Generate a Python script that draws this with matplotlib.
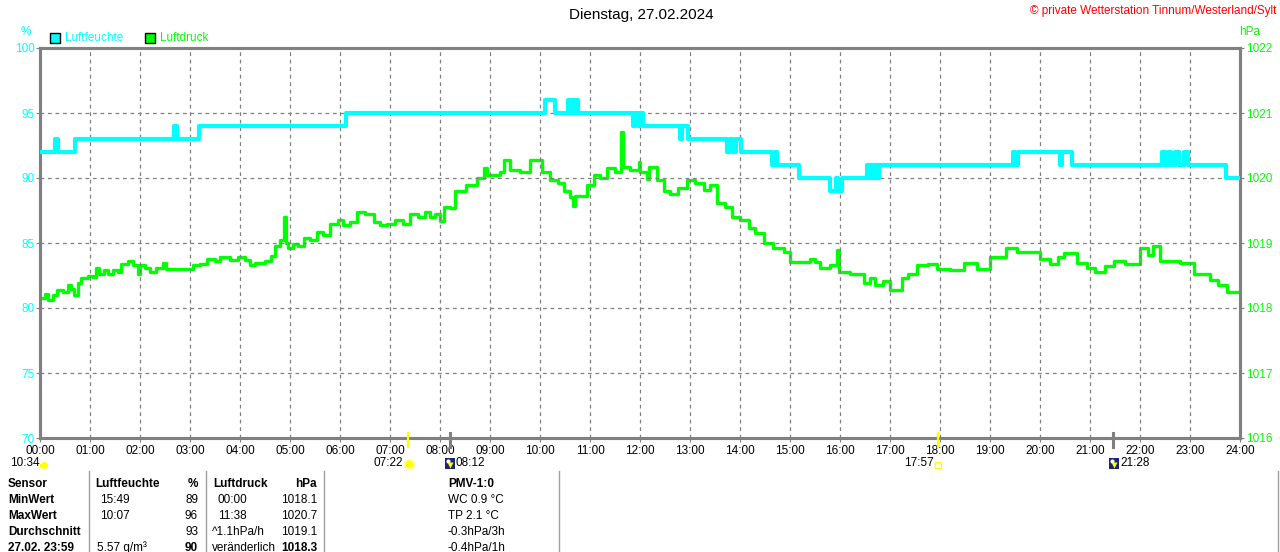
import matplotlib
matplotlib.use("Agg")
import matplotlib.pyplot as plt
from matplotlib.patches import Rectangle
from matplotlib.lines import Line2D

# Luftfeuchte (%), Stufenwerte: Zeit in Stunden, Wert
hum_t = [0, 0.30, 0.36, 0.70, 2.68, 2.74, 3.17, 6.12, 10.10, 10.30, 10.56, 10.60,
         10.64, 10.68, 10.72, 10.76, 11.86, 11.90, 11.95, 12.00, 12.06, 12.80, 12.84,
         12.96, 13.74, 13.80, 13.86, 13.92, 14.02, 14.64, 14.70, 14.74, 15.18, 15.80,
         15.92, 15.96, 16.04, 16.54, 16.58, 16.62, 16.66, 16.70, 16.74, 16.78, 19.46,
         19.50, 19.56, 20.40, 20.44, 20.64, 22.44, 22.50, 22.56, 22.62, 22.70, 22.78,
         22.88, 22.96, 23.72, 24]
hum_v = [92, 93, 92, 93, 94, 93, 94, 95, 96, 95, 96, 95, 96, 95, 96, 95, 94, 95, 94,
         95, 94, 93, 94, 93, 92, 93, 92, 93, 92, 91, 92, 91, 90, 89, 90, 89, 90, 91, 90,
         91, 90, 91, 90, 91, 92, 91, 92, 91, 92, 91, 92, 91, 92, 91, 92, 91, 92, 91, 90, 90]

# Luftdruck (hPa)
pr_t = [0.00, 0.10, 0.15, 0.25, 0.33, 0.45, 0.55, 0.62, 0.68, 0.75, 0.82, 0.95, 1.05,
        1.12, 1.18, 1.28, 1.36, 1.45, 1.55, 1.62, 1.75, 1.85, 1.95, 2.00, 2.10, 2.20,
        2.32, 2.45, 2.52, 3.00, 3.05, 3.20, 3.33, 3.50, 3.60, 3.80, 3.95, 4.10, 4.20,
        4.30, 4.50, 4.62, 4.70, 4.80, 4.88, 4.91, 4.96, 5.05, 5.15, 5.27, 5.40, 5.53,
        5.65, 5.80, 5.95, 6.05, 6.20, 6.33, 6.50, 6.67, 6.80, 6.93, 7.10, 7.25, 7.40,
        7.55, 7.70, 7.80, 7.90, 8.00, 8.07, 8.20, 8.30, 8.53, 8.73, 8.88, 8.95, 9.20,
        9.28, 9.40, 9.60, 9.80, 10.03, 10.20, 10.35, 10.47, 10.60, 10.65, 10.70, 10.93,
        11.07, 11.20, 11.33, 11.50, 11.62, 11.66, 11.80, 11.97, 12.00, 12.13, 12.17,
        12.33, 12.47, 12.60, 12.75, 12.93, 13.10, 13.27, 13.40, 13.53, 13.70, 13.83,
        14.00, 14.17, 14.30, 14.47, 14.65, 14.87, 15.00, 15.40, 15.50, 15.60, 15.80,
        15.93, 15.97, 16.20, 16.47, 16.60, 16.70, 16.85, 17.00, 17.23, 17.35, 17.53,
        17.75, 17.93, 18.20, 18.47, 18.73, 19.00, 19.33, 19.53, 20.00, 20.20, 20.35,
        20.47, 20.73, 20.93, 21.10, 21.30, 21.47, 21.70, 22.00, 22.15, 22.25, 22.40,
        22.80, 23.07, 23.40, 23.55, 23.73, 24.00]
pr_v = [1018.15, 1018.22, 1018.12, 1018.20, 1018.28, 1018.24, 1018.35, 1018.30, 1018.20,
        1018.38, 1018.46, 1018.50, 1018.48, 1018.62, 1018.52, 1018.58, 1018.52, 1018.58,
        1018.55, 1018.68, 1018.72, 1018.66, 1018.52, 1018.66, 1018.62, 1018.55, 1018.62,
        1018.70, 1018.60, 1018.60, 1018.66, 1018.68, 1018.76, 1018.72, 1018.78, 1018.74,
        1018.78, 1018.74, 1018.66, 1018.70, 1018.72, 1018.80, 1018.95, 1019.05, 1019.40,
        1019.00, 1018.92, 1018.98, 1018.96, 1019.08, 1019.05, 1019.17, 1019.12, 1019.30,
        1019.35, 1019.27, 1019.33, 1019.48, 1019.45, 1019.33, 1019.28, 1019.30, 1019.36,
        1019.30, 1019.45, 1019.40, 1019.47, 1019.40, 1019.44, 1019.34, 1019.56, 1019.54,
        1019.80, 1019.89, 1020.00, 1020.15, 1020.05, 1020.10, 1020.28, 1020.12, 1020.10,
        1020.27, 1020.10, 1019.97, 1019.92, 1019.80, 1019.71, 1019.57, 1019.72, 1019.90,
        1020.05, 1020.00, 1020.15, 1020.10, 1020.71, 1020.17, 1020.12, 1020.25, 1020.10,
        1019.98, 1020.17, 1019.97, 1019.80, 1019.76, 1019.85, 1019.97, 1019.93, 1019.82,
        1019.90, 1019.61, 1019.55, 1019.40, 1019.35, 1019.23, 1019.15, 1019.00, 1018.92,
        1018.86, 1018.71, 1018.75, 1018.71, 1018.61, 1018.66, 1018.90, 1018.56, 1018.52,
        1018.39, 1018.46, 1018.36, 1018.42, 1018.28, 1018.46, 1018.52, 1018.66, 1018.68,
        1018.60, 1018.58, 1018.70, 1018.60, 1018.79, 1018.92, 1018.86, 1018.76, 1018.68,
        1018.78, 1018.84, 1018.70, 1018.61, 1018.55, 1018.65, 1018.72, 1018.68, 1018.93,
        1018.82, 1018.95, 1018.72, 1018.70, 1018.52, 1018.43, 1018.35, 1018.25, 1018.25]

hum_ticks = [70, 75, 80, 85, 90, 95, 100]
pr_ticks = [1016, 1017, 1018, 1019, 1020, 1021, 1022]
hour_labels = ["%02d:00" % h for h in range(25)]

sun_events = [(7 + 22 / 60, "07:22"), (17 + 57 / 60, "17:57")]
moon_events = [(8 + 12 / 60, "08:12"), (21 + 28 / 60, "21:28")]
day_length = "10:34"

table_rows = [
    ["Sensor", "Luftfeuchte", "%", "Luftdruck", "hPa", "PMV-1:0"],
    ["MinWert", "15:49", "89", "00:00", "1018.1", "WC 0.9 °C"],
    ["MaxWert", "10:07", "96", "11:38", "1020.7", "TP 2.1 °C"],
    ["Durchschnitt", "", "93", "^1.1hPa/h", "1019.1", "-0.3hPa/3h"],
    ["27.02. 23:59", "5.57 g/m³", "90", "veränderlich", "1018.3", "-0.4hPa/1h"],
]

CYAN = "#00ffff"
GREEN = "#00ff00"
GRAY = "#808080"
W, H = 1280, 552

plt.rcParams['font.family'] = ['Liberation Sans', 'DejaVu Sans']
fig = plt.figure(figsize=(W / 100, H / 100), dpi=100)


def px(x, y):
    return x / W, 1 - y / H


def marker(x, y, **kw):
    fx, fy = px(x, y)
    fig.add_artist(Line2D([fx], [fy], linestyle='none', **kw))


ax = fig.add_axes([40 / W, 1 - 438 / H, 1200 / W, 390 / H])
ax2 = ax.twinx()

ax.set_xlim(0, 24)
ax.set_ylim(70, 100)
ax2.set_ylim(1016, 1022)

ax.set_xticks(range(25))
ax.set_xticklabels(hour_labels)
ax.set_yticks(hum_ticks)
ax2.set_yticks(pr_ticks)
ax.tick_params(axis='x', labelsize=8.5, length=3, color=GRAY, pad=2)
ax.tick_params(axis='y', labelsize=8.5, labelcolor=CYAN, length=3, color=GRAY, pad=1)
ax2.tick_params(axis='y', labelsize=8.5, labelcolor=GREEN, length=3, color=GRAY, pad=1)

ax.grid(True, color=GRAY, linestyle=(0, (3, 3)), linewidth=0.9)
for a in (ax, ax2):
    for s in a.spines.values():
        s.set_color(GRAY)
        s.set_linewidth(2.2)

ax.plot(hum_t, hum_v, drawstyle='steps-post', color=CYAN, lw=3, zorder=3)
ax2.plot(pr_t, pr_v, drawstyle='steps-post', color=GREEN, lw=2.4, zorder=3)
# Luftfeuchte ueber dem Luftdruck zeichnen
ax2.set_zorder(ax.get_zorder() - 1)
ax.patch.set_visible(False)

# Sonnen- und Mondzeiten an der Zeitachse
xt = ax.get_xaxis_transform()
for t, lab in sun_events:
    ax.plot([t, t], [0.013, -0.023], color="#ffff00", lw=1.6, transform=xt, clip_on=False, zorder=5)
for t, lab in moon_events:
    ax.plot([t, t], [0.013, -0.023], color=GRAY, lw=2.2, transform=xt, clip_on=False, zorder=5)

fig.text(*px(403, 463), sun_events[0][1], ha='right', va='center', fontsize=8.5)
marker(409, 464, marker='o', ms=7, mfc="#ffff00", mec="#ffffa0", mew=1.5)
fig.text(*px(934, 463), sun_events[1][1], ha='right', va='center', fontsize=8.5)
marker(938, 465, marker='s', ms=4, mfc="white", mec="#ffff00", mew=1)
for xm, (t, lab) in zip([445, 1109], moon_events):
    fig.patches.append(Rectangle(px(xm, 469), 10 / W, 11 / H, transform=fig.transFigure,
                                 fc="#1a237e", ec="none"))
    marker(xm + 3, 461, marker='o', ms=3, mfc="white", mec="none")
    marker(xm + 5, 465, marker='v', ms=4, mfc="#ffff00", mec="none")
    fig.text(*px(xm + 11, 463), lab, ha='left', va='center', fontsize=8.5)
fig.text(*px(10, 463), day_length, ha='left', va='center', fontsize=8.5)
marker(44, 465, marker=(2, 0, 0), ms=0)
fig.patches.append(Rectangle(px(40, 467), 8 / W, 3 / H, transform=fig.transFigure,
                             fc="#ffff00", ec="none"))
marker(44, 465, marker='o', ms=5, mfc="#ffff00", mec="none")

# Titel, Copyright, Legende
fig.text(*px(641, 15), "Dienstag, 27.02.2024", ha='center', va='center', fontsize=11)
fig.text(*px(1276, 11), "© private Wetterstation Tinnum/Westerland/Sylt",
         ha='right', va='center', fontsize=8.5, color="red")
fig.text(*px(26, 32), "%", ha='center', va='center', fontsize=8.5, color=CYAN)
fig.text(*px(1250, 32), "hPa", ha='center', va='center', fontsize=8.5, color=GREEN)
for x0, col, lab in [(50, CYAN, "Luftfeuchte"), (145, GREEN, "Luftdruck")]:
    fig.patches.append(Rectangle(px(x0, 43), 10 / W, 10 / H, transform=fig.transFigure,
                                 fc=col, ec="black", lw=1))
    fig.text(*px(x0 + 15, 38), lab, ha='left', va='center', fontsize=8.5, color=col)

# Tabelle unten
for xl in [89, 206, 324, 559, 1278]:
    fig.add_artist(Line2D([xl / W, xl / W], [1 - 471 / H, 0], color="#a0a0a0", lw=1))

col_x = [8, 100, 198, 218, 317, 448]
col_ha = ['left', 'left', 'right', 'left', 'right', 'left']
row_y = [484, 500, 516, 532, 548]
for r, row in enumerate(table_rows):
    for c, txt in enumerate(row):
        bold = r == 0 or c == 0 or (r == 4 and c in (2, 4))
        x = col_x[c]
        if r == 0 and c in (1, 3):
            x -= 5
        if r == 3 and c == 3:
            x = 212
        if r == 4 and c in (1, 3):
            x = col_x[c] - 3 if c == 1 else 212
        fig.text(*px(x, row_y[r]), txt, ha=col_ha[c], va='center', fontsize=8.5,
                 fontweight='bold' if bold else 'normal')

fig.savefig("out.png", dpi=100)
